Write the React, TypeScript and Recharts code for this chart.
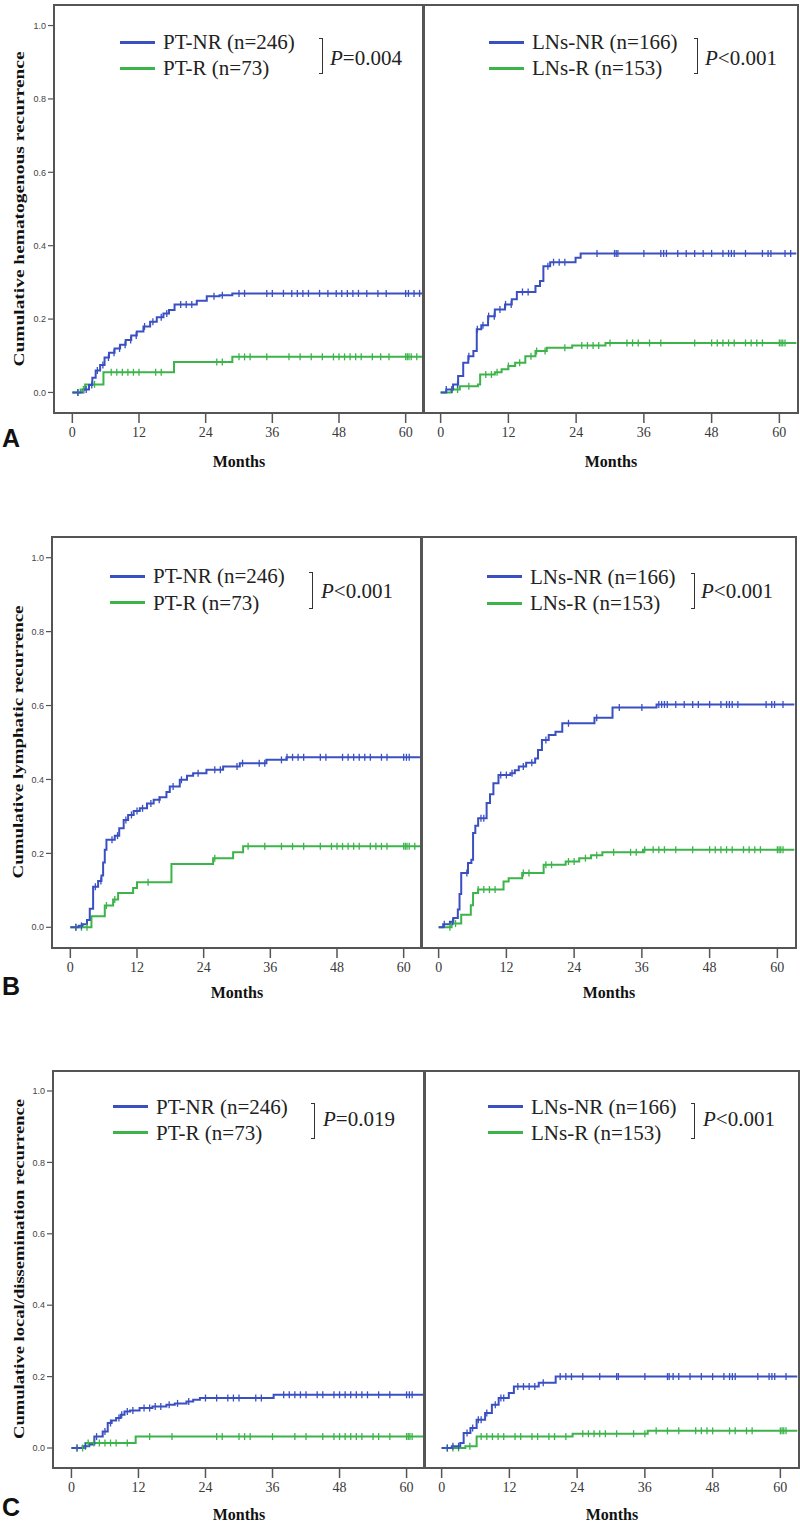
import { ComposedChart, Line, Scatter, XAxis, YAxis, ReferenceArea, Legend } from "recharts";

type Step = [number, number];

const monthTicks = [0, 12, 24, 36, 48, 60];
const riskTicks = [0, 0.2, 0.4, 0.6, 0.8, 1.0];
const X_DOMAIN: [number, number] = [-3.3, 63.3];
const Y_DOMAIN: [number, number] = [-0.056, 1.056];

const yTitles = [
  "Cumulative hematogenous recurrence",
  "Cumulative lymphatic recurrence",
  "Cumulative local/dissemination recurrence",
];
const panelLetters = ["A", "B", "C"];
const ptLabels = ["PT-NR (n=246)", "PT-R (n=73)"];
const lnLabels = ["LNs-NR (n=166)", "LNs-R (n=153)"];
const ptPValues = ["=0.004", "<0.001", "=0.019"];
const lnPValues = ["<0.001", "<0.001", "<0.001"];

// cumulative incidence step points [month, value]
const hemaPtNr: Step[] = [[0, 0], [2.0, 0.008], [3.0, 0.02], [3.6, 0.04], [4.2, 0.06], [5.0, 0.075], [5.8, 0.095], [6.6, 0.108], [7.6, 0.12], [8.6, 0.13], [9.6, 0.143], [10.6, 0.155], [11.6, 0.166], [12.8, 0.18], [14.0, 0.193], [15.2, 0.205], [16.4, 0.215], [17.4, 0.225], [18.4, 0.24], [22.4, 0.25], [24.2, 0.262], [26.5, 0.265], [28.8, 0.27], [63, 0.27]];
const hemaPtR: Step[] = [[0, 0], [1.5, 0.008], [2.3, 0.022], [5.6, 0.055], [18.3, 0.083], [28.8, 0.097], [63, 0.097]];
const hemaLnNr: Step[] = [[0, 0], [1, 0.008], [2.2, 0.022], [3.1, 0.045], [4.0, 0.081], [4.9, 0.099], [5.8, 0.113], [6.4, 0.172], [7.2, 0.183], [8.4, 0.208], [9.6, 0.226], [11.4, 0.24], [12.6, 0.254], [13.5, 0.274], [16.8, 0.29], [17.6, 0.304], [18.2, 0.344], [19.4, 0.355], [23.9, 0.367], [24.8, 0.379], [63, 0.379]];
const hemaLnR: Step[] = [[0, 0], [1.9, 0.008], [3.4, 0.017], [6.6, 0.022], [7.0, 0.049], [9.6, 0.055], [10.8, 0.063], [12, 0.072], [13.2, 0.081], [15, 0.099], [16.8, 0.113], [18.8, 0.122], [23.3, 0.128], [29.2, 0.135], [63, 0.135]];

const lymPtNr: Step[] = [[0, 0], [1.5, 0.004], [2.2, 0.008], [3.0, 0.02], [3.5, 0.05], [4.1, 0.11], [5.0, 0.125], [5.6, 0.14], [5.9, 0.175], [6.2, 0.21], [6.5, 0.237], [8.0, 0.248], [8.8, 0.268], [9.6, 0.29], [10.4, 0.304], [11.4, 0.315], [12.5, 0.322], [13.8, 0.335], [15.0, 0.345], [16.1, 0.352], [17.3, 0.366], [17.9, 0.381], [19.7, 0.399], [21.0, 0.41], [22.1, 0.417], [24.5, 0.426], [27.5, 0.435], [30.5, 0.444], [35.3, 0.453], [38.9, 0.46], [63, 0.46]];
const lymPtR: Step[] = [[0, 0], [3.8, 0.03], [6.2, 0.059], [7.7, 0.075], [8.6, 0.093], [11.3, 0.106], [12.0, 0.122], [18.2, 0.171], [25.7, 0.187], [29.3, 0.203], [31.1, 0.219], [63, 0.219]];
const lymLnNr: Step[] = [[0, 0], [0.8, 0.008], [2.0, 0.015], [2.6, 0.025], [3.4, 0.048], [3.7, 0.09], [4.0, 0.147], [5.2, 0.174], [5.8, 0.183], [6.1, 0.255], [6.5, 0.275], [7.0, 0.295], [8.5, 0.336], [9.1, 0.36], [9.7, 0.39], [10.6, 0.412], [12.7, 0.417], [13.5, 0.425], [14.2, 0.435], [15.5, 0.445], [17.1, 0.457], [17.6, 0.48], [18.3, 0.507], [19.5, 0.52], [20.7, 0.529], [21.9, 0.552], [27.6, 0.567], [30.8, 0.595], [38.6, 0.603], [63, 0.603]];
const lymLnR: Step[] = [[0, 0], [2.3, 0.01], [4.0, 0.034], [5.7, 0.06], [6.1, 0.093], [7.0, 0.102], [11.5, 0.124], [12.4, 0.133], [14.8, 0.147], [18.6, 0.169], [22.5, 0.178], [24.9, 0.187], [27, 0.195], [29, 0.203], [36.2, 0.21], [63, 0.21]];

const locPtNr: Step[] = [[0, 0], [2.0, 0.005], [3.2, 0.01], [4.1, 0.032], [5.6, 0.046], [6.5, 0.07], [7.2, 0.077], [8.0, 0.084], [8.8, 0.093], [9.5, 0.102], [10.5, 0.105], [12.2, 0.112], [14.5, 0.116], [17, 0.121], [18.5, 0.125], [20.6, 0.13], [21.8, 0.135], [23, 0.14], [36.2, 0.149], [63, 0.149]];
const locPtR: Step[] = [[0, 0], [2.5, 0.014], [11.5, 0.032], [63, 0.032]];
const locLnNr: Step[] = [[0, 0], [1.8, 0.005], [3.3, 0.014], [3.9, 0.042], [5.1, 0.056], [6.2, 0.079], [7.7, 0.098], [8.9, 0.121], [10.1, 0.14], [11.9, 0.154], [12.8, 0.172], [17.2, 0.183], [20.2, 0.2], [63, 0.2]];
const locLnR: Step[] = [[0, 0], [4.2, 0.005], [6.2, 0.032], [23.2, 0.04], [36.5, 0.048], [63, 0.048]];

// censoring times (months)
const hemaPtNrCensor = [1, 2.5, 3.5, 4.5, 5.5, 6.5, 7.5, 8.5, 9.5, 10.5, 11.5, 13, 14.5, 16, 17, 19.5, 20.5, 21.5, 25.5, 27, 30, 31, 35, 36, 38, 39.5, 40.5, 41.5, 42.5, 44.5, 46, 47.5, 48.5, 49.5, 50.5, 51.5, 53, 55, 56.5, 60, 60.5, 61.5, 62.5];
const hemaPtRCensor = [1, 2, 4, 7, 8, 9, 10, 11, 12, 15, 16, 26, 27, 30, 31, 32, 35, 39, 41, 43, 45, 47, 48, 49, 50, 51, 52, 54, 55.5, 57, 60, 60.3, 60.6, 61, 62];
const hemaLnNrCensor = [1, 2, 3, 5, 6.5, 7.5, 8.5, 9.5, 10.5, 11.5, 12.5, 14.5, 15.5, 19, 20, 21, 22, 27.7, 30.8, 31.1, 31.4, 36, 39, 39.5, 40, 42, 43.5, 45, 46.5, 48, 50, 51, 51.5, 52, 54, 57, 58, 58.5, 61, 62];
const hemaLnRCensor = [2, 3, 5, 8, 9, 10, 12, 14, 16, 17, 18.5, 22, 25, 26, 27, 28, 30, 33, 34, 35, 37, 39, 45, 48, 49, 50, 51, 52, 54, 55, 56, 57, 60, 60.3, 60.6, 61];
const lymPtNrCensor = [1, 2, 4.5, 5.5, 7.5, 8.5, 10, 11, 12, 13, 14.5, 16, 18.5, 20, 23, 26, 27, 30, 31, 34, 35, 38, 39, 40, 41, 42, 45, 46, 49, 50, 51, 52, 53, 54, 56, 57, 60, 60.5, 61];
const lymPtRCensor = [1, 2, 3, 6.5, 8, 14, 26, 32, 35, 38, 40, 42, 45, 47, 48, 49, 50, 51, 52, 54, 55, 56, 57, 60, 60.3, 60.6, 61, 62];
const lymLnNrCensor = [1, 2.5, 5, 7.5, 8, 11, 12, 13, 15, 16.5, 19, 23, 28, 32, 36, 39, 39.5, 40, 40.5, 42, 43.5, 45, 46, 48, 50, 51, 51.5, 52, 53, 58, 59, 59.5, 61];
const lymLnRCensor = [2, 3, 7, 8, 9, 10, 15, 16, 19, 20, 23, 24, 26, 28, 31, 34, 35, 36.5, 38, 39, 40, 42, 45, 48, 49, 50, 51, 52, 54, 55, 56, 57, 60, 60.3, 60.6, 61];
const locPtNrCensor = [1, 2.5, 4.5, 6, 7, 8.5, 9, 10, 11, 13, 14, 15, 16, 17.5, 19, 21, 24, 26, 28, 29, 30, 33, 34, 38, 39, 40, 41, 42, 44, 45, 47, 48, 49, 50, 51, 52, 53, 55, 57, 60, 60.5, 61];
const locPtRCensor = [1, 2, 3, 4, 5, 6, 7, 8, 10, 14, 18, 26, 27, 30, 31, 32, 36, 40, 42, 45, 47, 48, 49, 50, 51, 52, 54, 55, 57, 60, 60.3, 60.6, 61];
const locLnNrCensor = [1, 2, 3, 4.5, 5.5, 6.5, 7, 8, 9.5, 10.5, 11, 13.5, 14.5, 15.5, 16.5, 18, 21, 22, 23, 25, 28, 31, 31.3, 36, 40, 40.3, 41, 42, 44, 46, 48, 50, 51, 51.5, 52, 56, 58, 58.5, 59, 61];
const locLnRCensor = [1, 2, 3, 5, 7, 8, 9, 10, 11, 13, 14, 16, 17, 19, 20, 22, 25, 26, 27, 28, 29, 31, 34, 36, 38, 40, 42, 45, 46, 47, 48, 51, 52, 54, 55, 60, 60.3, 60.6, 61];

const BLUE = "#3a50c2";
const GREEN = "#3cb44a";
const SERIF = "'Liberation Serif', 'Times New Roman', serif";
const SANS = "'Liberation Sans', Arial, sans-serif";
const FRAME = "#555";

const stepValue = (s: Step[], t: number) => {
  let v = 0;
  for (const [m, y] of s) if (m <= t) v = y;
  return v;
};
const toRows = (s: Step[]) => s.map(([m, v]) => ({ m, v }));
const censorRows = (times: number[], s: Step[]) => times.map((t) => ({ m: t, v: stepValue(s, t) }));

const censorShape = (color: string) => (p: any) => {
  if (p.cx == null || p.cy == null) return <g />;
  return <line x1={p.cx} x2={p.cx} y1={p.cy - 3.5} y2={p.cy + 3.5} stroke={color} strokeWidth={1.3} />;
};

// layout per row (page pixels)
const rowLayout = [
  { top: 0, height: 480, frameTop: 5, xAxisH: 67, left: 54, divider: 424, right: 798, monthsY: 467, titleX: 19, titleY: 209, titleLen: 315,
    legL: { x: 120, y: 42, gap: 26, bDx: 203, pDx: 210, pDy: 16 }, legR: { x: 67, y: 42, gap: 26, bDx: 209, pDx: 216, pDy: 16 }, letterTop: 426 },
  { top: 530, height: 475, frameTop: 7, xAxisH: 57, left: 52, divider: 422, right: 796, monthsY: 468, titleX: 18, titleY: 212, titleLen: 273,
    legL: { x: 110, y: 46, gap: 26.5, bDx: 203, pDx: 211, pDy: 14.5 }, legR: { x: 67, y: 46.5, gap: 26.5, bDx: 208, pDx: 214, pDy: 14 }, letterTop: 974 },
  { top: 1064, height: 471, frameTop: 7, xAxisH: 67, left: 53, divider: 425, right: 799, monthsY: 456, titleX: 19, titleY: 205, titleLen: 340,
    legL: { x: 113, y: 42.7, gap: 26, bDx: 202, pDx: 210, pDy: 12.6 }, legR: { x: 65, y: 42.7, gap: 26, bDx: 207, pDx: 215, pDy: 12.6 }, letterTop: 1495 },
];

const rowSeries = [
  { pt: [hemaPtNr, hemaPtR], ptC: [hemaPtNrCensor, hemaPtRCensor], ln: [hemaLnNr, hemaLnR], lnC: [hemaLnNrCensor, hemaLnRCensor] },
  { pt: [lymPtNr, lymPtR], ptC: [lymPtNrCensor, lymPtRCensor], ln: [lymLnNr, lymLnR], lnC: [lymLnNrCensor, lymLnRCensor] },
  { pt: [locPtNr, locPtR], ptC: [locPtNrCensor, locPtRCensor], ln: [locLnNr, locLnR], lnC: [locLnNrCensor, locLnRCensor] },
];

function LegendBox({ leg, labels, pValue }: any) {
  const txt: any = { position: "absolute", left: 43, fontFamily: SERIF, fontSize: 21, lineHeight: "26px", color: "#222", whiteSpace: "nowrap" };
  return (
    <div style={{ position: "relative", width: 300, height: 60 }}>
      <div style={{ position: "absolute", left: 0, top: 11.5, width: 35, height: 3, background: BLUE }} />
      <div style={{ ...txt, top: 0 }}>{labels[0]}</div>
      <div style={{ position: "absolute", left: 0, top: leg.gap + 11.5, width: 35, height: 3, background: GREEN }} />
      <div style={{ ...txt, top: leg.gap }}>{labels[1]}</div>
      <div style={{ position: "absolute", left: leg.bDx - 4, top: 9, width: 3, height: leg.gap + 8,
        borderTop: "1.5px solid #333", borderBottom: "1.5px solid #333", borderRight: "1.5px solid #333" }} />
      <div style={{ ...txt, left: leg.pDx, top: leg.pDy }}>
        <i>P</i>{pValue}
      </div>
    </div>
  );
}

function KmPanel({ isLeft, row, idx }: { isLeft: boolean; row: any; idx: number }) {
  const s = rowSeries[idx];
  const series = isLeft ? s.pt : s.ln;
  const censors = isLeft ? s.ptC : s.lnC;
  const labels = isLeft ? ptLabels : lnLabels;
  const pValue = isLeft ? ptPValues[idx] : lnPValues[idx];
  const leg = isLeft ? row.legL : row.legR;
  const svgLeft = isLeft ? 0 : row.divider - 2;
  const yAxisW = isLeft ? row.left : 2;
  const width = (isLeft ? row.divider : row.right) - svgLeft + 2;
  const plotCx = (yAxisW + width - 2) / 2;

  const monthsLabel = () => (
    <text x={plotCx} y={row.monthsY} textAnchor="middle" fontFamily={SERIF} fontWeight="bold" fontSize={16} fill="#111">
      Months
    </text>
  );
  const yTitle = () => (
    <text x={row.titleX} y={row.titleY} transform={`rotate(-90 ${row.titleX} ${row.titleY})`} textAnchor="middle"
      dominantBaseline="central" fontFamily={SERIF} fontWeight="bold" fontSize={15} fill="#111"
      textLength={row.titleLen} lengthAdjust="spacingAndGlyphs">
      {yTitles[idx]}
    </text>
  );

  return (
    <div style={{ position: "absolute", left: svgLeft, top: row.top }}>
      <ComposedChart width={width} height={row.height} margin={{ top: row.frameTop, right: 2, bottom: 0, left: 0 }}>
        <XAxis type="number" dataKey="m" domain={X_DOMAIN} ticks={monthTicks} allowDataOverflow interval={0}
          axisLine={false} tickSize={10} tickMargin={4} height={row.xAxisH}
          tickLine={{ stroke: FRAME, strokeWidth: 1.5 }}
          tick={{ fontFamily: SERIF, fontSize: 14, fill: "#3a3a3a" }} label={monthsLabel} />
        <YAxis type="number" dataKey="v" domain={Y_DOMAIN} ticks={riskTicks} allowDataOverflow interval={0}
          axisLine={false} width={yAxisW} mirror={!isLeft} tickSize={isLeft ? 6 : 3} tickMargin={2}
          tickLine={{ stroke: FRAME, strokeWidth: 1.2 }}
          tick={isLeft ? { fontFamily: SANS, fontSize: 9, fill: "#444" } : false}
          tickFormatter={(v: number) => v.toFixed(1)}
          label={isLeft ? yTitle : undefined} />
        <ReferenceArea x1={X_DOMAIN[0]} x2={X_DOMAIN[1]} y1={Y_DOMAIN[0]} y2={Y_DOMAIN[1]}
          fill="none" stroke={FRAME} strokeWidth={2} ifOverflow="visible" />
        <Line data={toRows(series[1])} dataKey="v" type="stepAfter" stroke={GREEN} strokeWidth={2} dot={false} isAnimationActive={false} />
        <Line data={toRows(series[0])} dataKey="v" type="stepAfter" stroke={BLUE} strokeWidth={2} dot={false} isAnimationActive={false} />
        <Scatter data={censorRows(censors[1], series[1])} dataKey="v" fill={GREEN} shape={censorShape(GREEN)} isAnimationActive={false} />
        <Scatter data={censorRows(censors[0], series[0])} dataKey="v" fill={BLUE} shape={censorShape(BLUE)} isAnimationActive={false} />
        <Legend layout="horizontal" verticalAlign="middle" align="center"
          wrapperStyle={{ left: leg.x, top: leg.y - 13, width: 300, height: 60 }}
          content={() => <LegendBox leg={leg} labels={labels} pValue={pValue} />} />
      </ComposedChart>
    </div>
  );
}

export default function App() {
  return (
    <div style={{ position: "absolute", left: 0, top: 0, width: 800, height: 1535, background: "#fff", overflow: "hidden" }}>
      {rowLayout.map((row, idx) => (
        <div key={idx}>
          <KmPanel isLeft row={row} idx={idx} />
          <KmPanel isLeft={false} row={row} idx={idx} />
          <div style={{ position: "absolute", left: 2, top: row.letterTop, fontFamily: SANS, fontWeight: "bold", fontSize: 25, lineHeight: "25px", color: "#111" }}>
            {panelLetters[idx]}
          </div>
        </div>
      ))}
    </div>
  );
}
